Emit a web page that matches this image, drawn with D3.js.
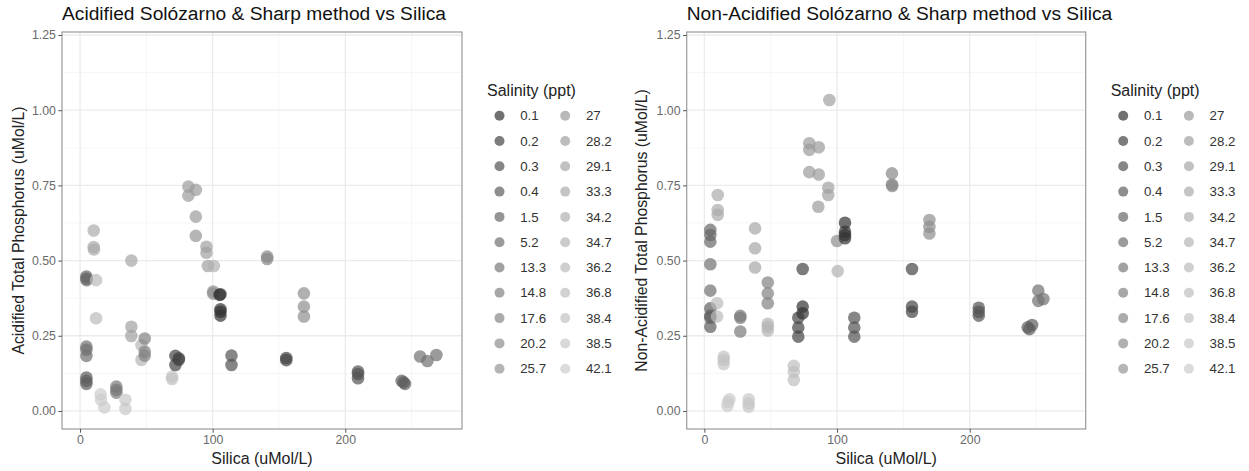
<!DOCTYPE html>
<html>
<head>
<meta charset="utf-8">
<script src="https://cdn.jsdelivr.net/npm/d3@7"></script>
<style>
  html, body { margin: 0; padding: 0; background: #ffffff; }
  svg { display: block; font-family: "Liberation Sans", Arial, Helvetica, sans-serif; }
</style>
</head>
<body>
<svg id="chart" width="1249" height="471"></svg>
<script>
// Salinity levels (ppt) used for the grey colour scale and the legend
const salinityLevels = [0.1, 0.2, 0.3, 0.4, 1.5, 5.2, 13.3, 14.8, 17.6, 20.2, 25.7,
                        27, 28.2, 29.1, 33.3, 34.2, 34.7, 36.2, 36.8, 38.4, 38.5, 42.1];

// Acidified samples
const acidSilica = [4.8, 4.8, 5.0, 4.8, 4.8, 4.8, 4.8, 4.8, 4.8,
  10.3, 10.3, 10.5, 12.1, 12.1, 15.5, 15.8, 18.4, 27.4, 27.4, 27.4,
  34.2, 34.2, 38.7, 38.7, 38.7, 46.3, 46.3, 48.8, 48.8, 48.8,
  69.4, 69.4, 71.9, 71.9, 74.5, 74.5,
  81.7, 81.7, 87.3, 87.3, 87.3, 95.3, 95.3, 96.4, 100.9,
  100.4, 100.4, 105.9, 105.2, 105.9, 105.9, 105.9, 114.2, 114.2,
  141.1, 141.1, 155.5, 155.5, 168.8, 168.8, 168.8,
  209.6, 209.6, 209.6, 242.5, 244.0, 245.0, 256.4, 261.9, 268.7];
const acidPhosphorus = [0.447, 0.440, 0.435, 0.214, 0.203, 0.183, 0.111, 0.100, 0.090,
  0.600, 0.545, 0.537, 0.435, 0.308, 0.055, 0.037, 0.012, 0.081, 0.070, 0.061,
  0.037, 0.007, 0.500, 0.280, 0.249, 0.219, 0.170, 0.241, 0.197, 0.184,
  0.114, 0.106, 0.183, 0.153, 0.175, 0.170,
  0.746, 0.716, 0.735, 0.646, 0.582, 0.546, 0.526, 0.482, 0.482,
  0.397, 0.390, 0.388, 0.386, 0.338, 0.330, 0.317, 0.184, 0.153,
  0.513, 0.505, 0.176, 0.169, 0.391, 0.347, 0.314,
  0.131, 0.123, 0.109, 0.100, 0.095, 0.090, 0.181, 0.166, 0.186];
const acidSalinity = [1.5, 1.5, 1.5, 5.2, 5.2, 5.2, 0.4, 0.4, 0.4,
  33.3, 33.3, 33.3, 36.2, 36.2, 42.1, 42.1, 42.1, 13.3, 13.3, 13.3,
  38.5, 38.5, 29.1, 28.2, 28.2, 34.7, 34.7, 14.8, 14.8, 14.8,
  38.4, 38.4, 0.2, 0.2, 0.2, 0.2,
  27, 27, 27, 27, 25.7, 28.2, 28.2, 28.2, 34.2,
  20.2, 20.2, 0.1, 0.1, 0.1, 0.1, 0.1, 0.3, 0.3,
  17.6, 17.6, 0.2, 0.2, 20.2, 20.2, 20.2,
  0.3, 0.3, 0.3, 0.4, 0.4, 0.4, 5.2, 5.2, 5.2];

// Non-acidified samples
const nonAcidSilica = [4.5, 4.5, 4.5, 4.5, 4.5, 4.5, 4.5, 4.5, 4.5,
  10.1, 10.1, 10.1, 9.6, 9.6, 14.6, 14.6, 14.6, 18.9, 17.9, 17.4,
  27.1, 27.1, 27.1, 33.4, 33.4, 33.4, 38.2, 38.2, 38.2,
  47.8, 47.8, 47.8, 47.8, 47.8, 47.8, 67.4, 67.4, 67.4,
  70.8, 70.8, 70.8, 74.1, 74.1, 74.1,
  79.1, 79.1, 79.1, 86.2, 86.2, 85.9, 94.2, 93.4, 93.4, 100.0, 100.5,
  106.0, 106.0, 106.0, 106.0, 113.0, 113.0, 113.0,
  141.4, 141.4, 141.6, 156.5, 156.5, 156.5, 169.6, 169.6, 169.6,
  206.8, 206.8, 206.8, 243.7, 247.0, 245.0, 251.7, 251.7, 255.5];
const nonAcidPhosphorus = [0.602, 0.585, 0.563, 0.488, 0.400, 0.341, 0.316, 0.310, 0.280,
  0.718, 0.668, 0.652, 0.358, 0.314, 0.180, 0.170, 0.156, 0.039, 0.030, 0.017,
  0.316, 0.310, 0.264, 0.039, 0.025, 0.014, 0.607, 0.541, 0.477,
  0.427, 0.391, 0.358, 0.290, 0.280, 0.267, 0.150, 0.130, 0.103,
  0.310, 0.277, 0.247, 0.472, 0.347, 0.325,
  0.890, 0.868, 0.794, 0.877, 0.786, 0.679, 1.034, 0.742, 0.718, 0.565, 0.465,
  0.626, 0.596, 0.585, 0.574, 0.310, 0.277, 0.247,
  0.790, 0.753, 0.748, 0.472, 0.347, 0.330, 0.635, 0.612, 0.590,
  0.343, 0.330, 0.317, 0.278, 0.286, 0.272, 0.400, 0.366, 0.372];
const nonAcidSalinity = [1.5, 1.5, 1.5, 5.2, 5.2, 0.4, 0.4, 0.4, 0.4,
  33.3, 33.3, 33.3, 36.2, 36.2, 38.4, 38.4, 38.4, 42.1, 42.1, 42.1,
  13.3, 13.3, 13.3, 38.5, 38.5, 38.5, 29.1, 29.1, 29.1,
  14.8, 14.8, 14.8, 34.7, 34.7, 34.7, 36.8, 36.8, 36.8,
  0.2, 0.2, 0.2, 0.2, 0.1, 0.1,
  27, 27, 27, 27, 27, 27, 28.2, 28.2, 28.2, 20.2, 34.2,
  0.1, 0.1, 0.1, 0.1, 0.3, 0.3, 0.3,
  17.6, 17.6, 17.6, 0.2, 0.2, 0.2, 20.2, 20.2, 20.2,
  0.3, 0.3, 0.3, 0.4, 0.4, 0.4, 5.2, 5.2, 5.2];

// Axis ticks
const xMajorTicks = [0, 100, 200];
const xMinorTicks = [50, 150, 250];
const yMajorTicks = [0, 0.25, 0.5, 0.75, 1.0, 1.25];
const yMinorTicks = [0.125, 0.375, 0.625, 0.875, 1.125];

const svg = d3.select("#chart");

// Grey palette, gamma-corrected between grey20 and grey80
function greyLevels(n, start, end, gamma) {
  const a = Math.pow(start, gamma), b = Math.pow(end, gamma);
  return d3.range(n).map(i => Math.pow(a + (b - a) * i / (n - 1), 1 / gamma));
}
const greys = greyLevels(salinityLevels.length, 0.2, 0.8, 2.2)
  .map(g => { const v = Math.round(g * 255); return `rgb(${v},${v},${v})`; });
const colour = d3.scaleOrdinal().domain(salinityLevels).range(greys);

const yScale = d3.scaleLinear().domain([-0.06, 1.26]).range([429, 32]);

function drawPanel(cfg) {
  const x = d3.scaleLinear().domain(cfg.xDomain).range([cfg.left, cfg.right]);
  const y = yScale;
  const g = svg.append("g");

  // minor grid
  g.selectAll(".xminor").data(xMinorTicks).join("line")
    .attr("x1", d => x(d)).attr("x2", d => x(d))
    .attr("y1", y.range()[1]).attr("y2", y.range()[0])
    .attr("stroke", "#f2f2f2").attr("stroke-width", 0.8);
  g.selectAll(".yminor").data(yMinorTicks).join("line")
    .attr("x1", cfg.left).attr("x2", cfg.right)
    .attr("y1", d => y(d)).attr("y2", d => y(d))
    .attr("stroke", "#f2f2f2").attr("stroke-width", 0.8);
  // major grid
  g.selectAll(".xmajor").data(xMajorTicks).join("line")
    .attr("x1", d => x(d)).attr("x2", d => x(d))
    .attr("y1", y.range()[1]).attr("y2", y.range()[0])
    .attr("stroke", "#ebebeb").attr("stroke-width", 1.3);
  g.selectAll(".ymajor").data(yMajorTicks).join("line")
    .attr("x1", cfg.left).attr("x2", cfg.right)
    .attr("y1", d => y(d)).attr("y2", d => y(d))
    .attr("stroke", "#ebebeb").attr("stroke-width", 1.3);

  // points
  const pts = cfg.silica.map((s, i) => ({ s, p: cfg.phosphorus[i], sal: cfg.salinity[i] }));
  g.selectAll("circle.pt").data(pts).join("circle")
    .attr("class", "pt")
    .attr("cx", d => x(d.s)).attr("cy", d => y(d.p)).attr("r", 6.3)
    .attr("fill", d => colour(d.sal)).attr("fill-opacity", 0.7);

  // panel border
  g.append("rect")
    .attr("x", cfg.left).attr("y", y.range()[1])
    .attr("width", cfg.right - cfg.left).attr("height", y.range()[0] - y.range()[1])
    .attr("fill", "none").attr("stroke", "#9a9a9a").attr("stroke-width", 1.2);

  // axes
  const xAxis = d3.axisBottom(x).tickValues(xMajorTicks).tickSize(3.7).tickPadding(3)
    .tickFormat(d3.format("d"));
  const ax = g.append("g").attr("transform", `translate(0,${y.range()[0]})`).call(xAxis);
  const yAxis = d3.axisLeft(y).tickValues(yMajorTicks).tickSize(3.7).tickPadding(2.5)
    .tickFormat(d3.format(".2f"));
  const ay = g.append("g").attr("transform", `translate(${cfg.left},0)`).call(yAxis);
  [ax, ay].forEach(a => {
    a.select(".domain").remove();
    a.selectAll(".tick line").attr("stroke", "#555555").attr("stroke-width", 1);
    a.selectAll(".tick text").attr("fill", "#6a6a6a").attr("font-size", 12.3)
      .attr("font-family", "Liberation Sans, Arial, sans-serif");
  });

  // titles
  g.append("text").attr("x", cfg.left).attr("y", 19.5)
    .attr("font-size", 19.2).attr("fill", "#111111").text(cfg.title);
  g.append("text").attr("x", (cfg.left + cfg.right) / 2).attr("y", 463.5)
    .attr("text-anchor", "middle").attr("font-size", 16).attr("fill", "#222222")
    .text("Silica (uMol/L)");
  g.append("text")
    .attr("transform", `translate(${cfg.yTitleX},${(y.range()[0] + y.range()[1]) / 2}) rotate(-90)`)
    .attr("text-anchor", "middle").attr("font-size", 15.8).attr("fill", "#222222")
    .text(cfg.yTitle);

  // legend
  const lg = svg.append("g");
  lg.append("text").attr("x", cfg.legendX).attr("y", 96)
    .attr("font-size", 16).attr("fill", "#222222").text("Salinity (ppt)");
  const perCol = 11;
  const items = lg.selectAll("g.item").data(salinityLevels).join("g")
    .attr("transform", (d, i) => {
      const col = Math.floor(i / perCol), row = i % perCol;
      return `translate(${cfg.legendX + 12.5 + col * 65.7},${115.7 + row * 25.3})`;
    });
  items.append("circle").attr("r", 5).attr("fill", d => colour(d)).attr("fill-opacity", 0.7);
  items.append("text").attr("x", 20.7).attr("dy", "0.35em")
    .attr("font-size", 13.3).attr("fill", "#333333").text(d => d);
}

drawPanel({
  left: 62, right: 462, xDomain: [-13.6, 288],
  silica: acidSilica, phosphorus: acidPhosphorus, salinity: acidSalinity,
  title: "Acidified Solózarno & Sharp method vs Silica",
  yTitle: "Acidified Total Phosphorus (uMol/L)", yTitleX: 23.5,
  legendX: 487
});
drawPanel({
  left: 686.7, right: 1085.7, xDomain: [-13.3, 287.4],
  silica: nonAcidSilica, phosphorus: nonAcidPhosphorus, salinity: nonAcidSalinity,
  title: "Non-Acidified Solózarno & Sharp method vs Silica",
  yTitle: "Non-Acidified Total Phosphorus (uMol/L)", yTitleX: 646.5,
  legendX: 1110.7
});
</script>
</body>
</html>
